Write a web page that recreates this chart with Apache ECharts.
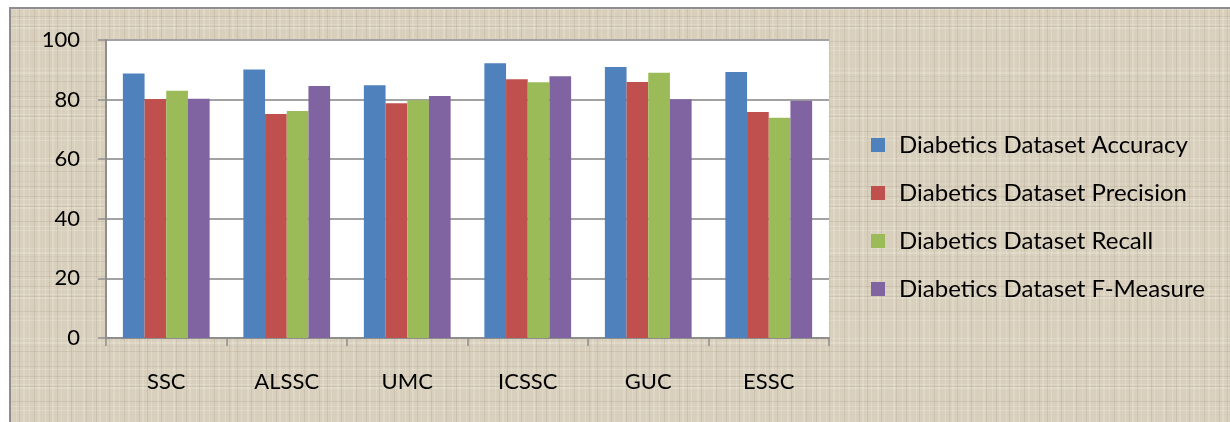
<!DOCTYPE html>
<html>
<head>
<meta charset="utf-8">
<script src="https://cdn.jsdelivr.net/npm/echarts@6/dist/echarts.min.js"></script>
<style>
  html, body { margin: 0; padding: 0; background: #ffffff; }
  #chart { width: 1230px; height: 422px; }
</style>
</head>
<body>
<div id="chart"></div>
<script>
// Methods compared on the diabetics dataset
const categories = ['SSC', 'ALSSC', 'UMC', 'ICSSC', 'GUC', 'ESSC'];
const accuracy  = [88.8, 90.1, 84.8, 92.2, 90.9, 89.3];
const precision = [80.2, 75.2, 78.8, 86.8, 85.9, 75.8];
const recall    = [83.0, 76.2, 79.8, 85.8, 89.0, 73.9];
const fMeasure  = [80.3, 84.6, 81.2, 87.8, 80.1, 79.6];
const seriesNames = [
  'Diabetics Dataset Accuracy',
  'Diabetics Dataset Precision',
  'Diabetics Dataset Recall',
  'Diabetics Dataset F-Measure'
];
const yTicks = [0, 20, 40, 60, 80, 100];

const colors = ['#4F81BD', '#C0504D', '#9BBB59', '#8064A2'];
const font = 'Lato, "Open Sans", sans-serif';

// Woven linen tile for the chart area background
function linenTile() {
  const c = document.createElement('canvas');
  c.width = 90; c.height = 90;
  const g = c.getContext('2d');
  g.fillStyle = '#D8CFBC';
  g.fillRect(0, 0, 90, 90);
  const light = [2, 9, 16, 23, 29, 38, 45, 52, 61, 67, 74, 83];
  const dark = [6, 19, 34, 49, 57, 71, 86];
  g.fillStyle = 'rgba(242,237,224,0.32)';
  light.forEach((p, k) => { g.fillRect(p, 0, 1 + (k % 2), 90); g.fillRect(0, (p * 7 + 5) % 90, 90, 1); });
  g.fillStyle = 'rgba(150,140,118,0.18)';
  dark.forEach(p => { g.fillRect(p, 0, 1, 90); g.fillRect(0, (p * 5 + 11) % 90, 90, 1); });
  return c;
}

const chart = echarts.init(document.getElementById('chart'), null, { renderer: 'canvas' });

const seriesData = [accuracy, precision, recall, fMeasure];

chart.setOption({
  animation: false,
  backgroundColor: '#ffffff',
  color: colors,
  graphic: [
    {
      type: 'rect',
      z: -10,
      silent: true,
      shape: { x: 10, y: 8, width: 1240, height: 430 },
      style: { fill: { image: linenTile(), repeat: 'repeat' }, stroke: '#8E8E8E', lineWidth: 2 }
    }
  ],
  grid: {
    left: 106, top: 40, right: 401, bottom: 84,
    show: true, backgroundColor: '#ffffff', borderWidth: 0
  },
  legend: {
    orient: 'vertical',
    left: 866, top: 128,
    itemWidth: 14, itemHeight: 14,
    itemGap: 24,
    icon: 'rect',
    data: seriesNames,
    textStyle: { fontFamily: font, fontSize: 24, color: '#000', lineHeight: 24, padding: [0, 0, 0, 9] }
  },
  xAxis: {
    type: 'category',
    data: categories,
    axisLine: { show: true, lineStyle: { color: '#8E8E8E', width: 2 } },
    axisTick: { show: true, length: 8, lineStyle: { color: '#8E8E8E', width: 1.5 } },
    axisLabel: { color: '#000', fontFamily: font, fontSize: 22, margin: 33 }
  },
  yAxis: {
    type: 'value',
    min: 0, max: 100, interval: 20,
    axisLine: { show: true, lineStyle: { color: '#8E8E8E', width: 2 } },
    axisTick: { show: true, length: 8, lineStyle: { color: '#8E8E8E', width: 1.5 } },
    axisLabel: {
      color: '#000', fontFamily: font, fontSize: 22, margin: 26,
      formatter: v => (yTicks.includes(v) ? String(v) : '')
    },
    splitLine: { show: true, lineStyle: { color: '#A2A2A2', width: 2 } }
  },
  series: seriesData.map((d, i) => ({
    name: seriesNames[i],
    type: 'bar',
    data: d,
    barGap: '0%',
    barCategoryGap: '28%',
    itemStyle: { color: colors[i] }
  }))
});
</script>
</body>
</html>
